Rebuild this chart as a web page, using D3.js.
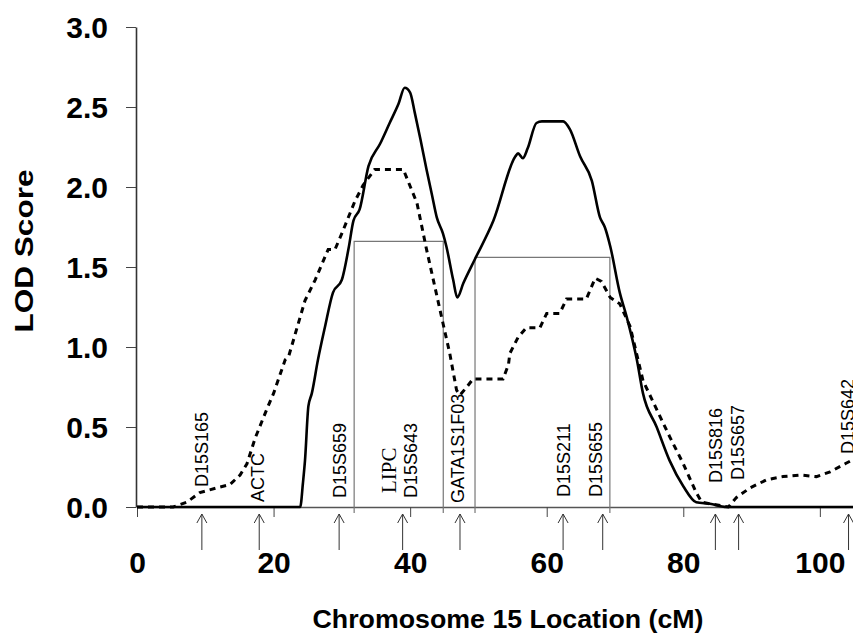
<!DOCTYPE html>
<html>
<head>
<meta charset="utf-8">
<script src="https://cdn.jsdelivr.net/npm/d3@7"></script>
<style>
  body { margin: 0; background: #fff; }
  text { font-family: "Liberation Sans", Arial, sans-serif; fill: #000; }
</style>
</head>
<body>
<div id="chart"></div>
<script>
// LOD curves: [cM, LOD]
var solidCurve = [[0,0],[23.9,0],[24.3,0.15],[24.6,0.29],[25.1,0.63],[25.6,0.71],[26.5,0.92],[27.5,1.12],
  [28.7,1.34],[30.0,1.42],[31.0,1.62],[31.7,1.79],[32.6,1.86],[33.9,2.13],[35.6,2.27],[37.0,2.40],
  [38.3,2.52],[39.2,2.62],[40.0,2.59],[40.7,2.46],[41.5,2.30],[42.4,2.11],[43.2,1.95],[43.9,1.81],
  [44.8,1.71],[45.3,1.63],[46.3,1.42],[46.9,1.31],[47.8,1.40],[49.5,1.55],[52.2,1.79],[55.4,2.19],
  [55.8,2.21],[56.5,2.18],[57.2,2.24],[58.5,2.40],[59.3,2.41],[62.4,2.41],[63.4,2.36],[64.9,2.19],
  [66.6,2.04],[67.8,1.81],[68.5,1.75],[69.3,1.63],[70.7,1.34],[71.7,1.19],[73.2,0.92],[74.1,0.71],
  [76.1,0.50],[78.0,0.29],[80.0,0.13],[81.9,0.03],[83.9,0.02],[86.3,0],[105,0]];

var dashedCurve = [[0,0],[5.3,0],[7.3,0.03],[9.2,0.09],[11.7,0.12],[13.6,0.14],[15.1,0.20],[16.1,0.27],
  [17.3,0.43],[19.0,0.61],[20.0,0.71],[21.7,0.92],[22.2,0.94],[24.6,1.29],[26.1,1.42],[28.0,1.61],
  [29.0,1.61],[30.0,1.71],[31.9,1.91],[33.1,2.01],[34.8,2.11],[39.0,2.11],[41.0,1.90],[42.4,1.61],
  [43.6,1.38],[44.8,1.15],[45.8,0.96],[46.8,0.73],[47.3,0.70],[48.3,0.75],[49.2,0.80],[53.6,0.80],
  [54.4,0.89],[54.6,0.96],[55.8,1.06],[57.0,1.12],[59.0,1.12],[60.0,1.21],[61.9,1.21],[62.9,1.30],
  [65.8,1.30],[67.1,1.43],[68.0,1.41],[69.3,1.31],[70.7,1.27],[72.2,1.13],[74.1,0.79],[76.1,0.61],
  [78.0,0.44],[80.0,0.27],[81.9,0.09],[82.7,0.03],[83.9,0.02],[86.6,0],[87.8,0.06],[89.8,0.12],
  [92.2,0.17],[94.6,0.19],[97.1,0.20],[99.5,0.19],[101.5,0.22],[103.7,0.27],[105,0.30]];

// support intervals: [from cM, to cM, LOD]
var intervals = [[31.8, 44.85, 1.66], [49.5, 69.25, 1.56]];

var markerNames = ["D15S165","ACTC","D15S659","D15S643","GATA1S1F03","D15S211","D15S655","D15S816","D15S657","D15S642"];
var markerCM = [9.5, 17.9, 29.6, 38.9, 47.3, 62.4, 68.2, 84.7, 88.1, 104.2];
var geneName = "LIPC", geneCM = 38.9;

var xTicks = [0, 20, 40, 60, 80, 100];
var yTicks = [0, 0.5, 1, 1.5, 2, 2.5, 3];

// label placement tweaks (px)
var labelDx = [0, -1.5, 0, 8, -2, 0, -7, 0, -1, -1];
var labelLift = [20, 5, 9, 9, 4, 10, 10, 24, 27, 53];

var W = 853, H = 634;
var svg = d3.select("#chart").append("svg")
  .attr("width", W).attr("height", H);

var x = d3.scaleLinear().domain([0, 105]).range([137, 854]);
var y = d3.scaleLinear().domain([0, 3]).range([507, 27]);

// y axis
var yAxis = svg.append("g")
  .attr("transform", "translate(136,0)")
  .call(d3.axisLeft(y).tickValues(yTicks).tickFormat(d3.format(".1f"))
    .tickSize(10).tickSizeOuter(0).tickPadding(18));
yAxis.select(".domain").attr("stroke", "#333").attr("stroke-width", 1.6);
yAxis.selectAll(".tick line").attr("stroke", "#444");
yAxis.selectAll(".tick text")
  .style("font-size", "30px").style("font-weight", "bold")
  .attr("dy", "0.36em");

// x axis
var xAxis = svg.append("g")
  .attr("transform", "translate(0,507)")
  .call(d3.axisBottom(x).tickValues(xTicks).tickSize(10).tickSizeOuter(0).tickPadding(35));
xAxis.select(".domain").attr("stroke", "#555").attr("stroke-width", 1.6);
xAxis.selectAll(".tick line").attr("stroke", "#444");
xAxis.selectAll(".tick text")
  .style("font-size", "30px").style("font-weight", "bold");

// support interval boxes
svg.selectAll("rect.ci").data(intervals).enter().append("path")
  .attr("class", "ci")
  .attr("fill", "none").attr("stroke", "#777").attr("stroke-width", 1.2)
  .attr("d", function(d) {
    return "M" + x(d[0]) + "," + (y(0) + 6) + "V" + y(d[2]) + "H" + x(d[1]) + "V" + (y(0) + 6);
  });

var line = d3.line().x(function(d) { return x(d[0]); }).y(function(d) { return y(d[1]); });

svg.append("path").datum(dashedCurve)
  .attr("fill", "none").attr("stroke", "#000").attr("stroke-width", 3)
  .attr("stroke-dasharray", "6,5")
  .attr("d", line);

svg.append("path").datum(solidCurve)
  .attr("fill", "none").attr("stroke", "#000").attr("stroke-width", 2.6)
  .attr("stroke-linejoin", "round")
  .attr("d", line.curve(d3.curveMonotoneX));

// marker arrows
svg.selectAll("path.arrow").data(markerCM).enter().append("path")
  .attr("class", "arrow")
  .attr("fill", "none").attr("stroke", "#333").attr("stroke-width", 1)
  .attr("d", function(d) {
    var px = x(d);
    return "M" + px + ",550V514M" + (px - 5) + ",523L" + px + ",514L" + (px + 5) + ",523";
  });

// marker labels
svg.selectAll("text.marker").data(markerNames).enter().append("text")
  .attr("class", "marker")
  .attr("transform", function(d, i) {
    return "translate(" + (x(markerCM[i]) + labelDx[i]) + "," + (y(0) - labelLift[i]) + ") rotate(-90)";
  })
  .attr("dy", "0.36em")
  .style("font-size", "18px")
  .text(function(d) { return d; });

svg.append("text")
  .attr("transform", "translate(" + (x(geneCM) - 14) + "," + (y(0) - 14) + ") rotate(-90)")
  .attr("dy", "0.33em")
  .style("font-family", "'Liberation Serif', 'Times New Roman', serif")
  .style("font-size", "21px")
  .text(geneName);

// axis titles
svg.append("text")
  .attr("transform", "translate(33,251) rotate(-90)")
  .attr("text-anchor", "middle")
  .attr("textLength", 163).attr("lengthAdjust", "spacingAndGlyphs")
  .style("font-size", "25px").style("font-weight", "bold")
  .text("LOD Score");

svg.append("text")
  .attr("x", 508).attr("y", 628)
  .attr("text-anchor", "middle")
  .attr("textLength", 391).attr("lengthAdjust", "spacingAndGlyphs")
  .style("font-size", "26px").style("font-weight", "bold")
  .text("Chromosome 15 Location (cM)");
</script>
</body>
</html>
